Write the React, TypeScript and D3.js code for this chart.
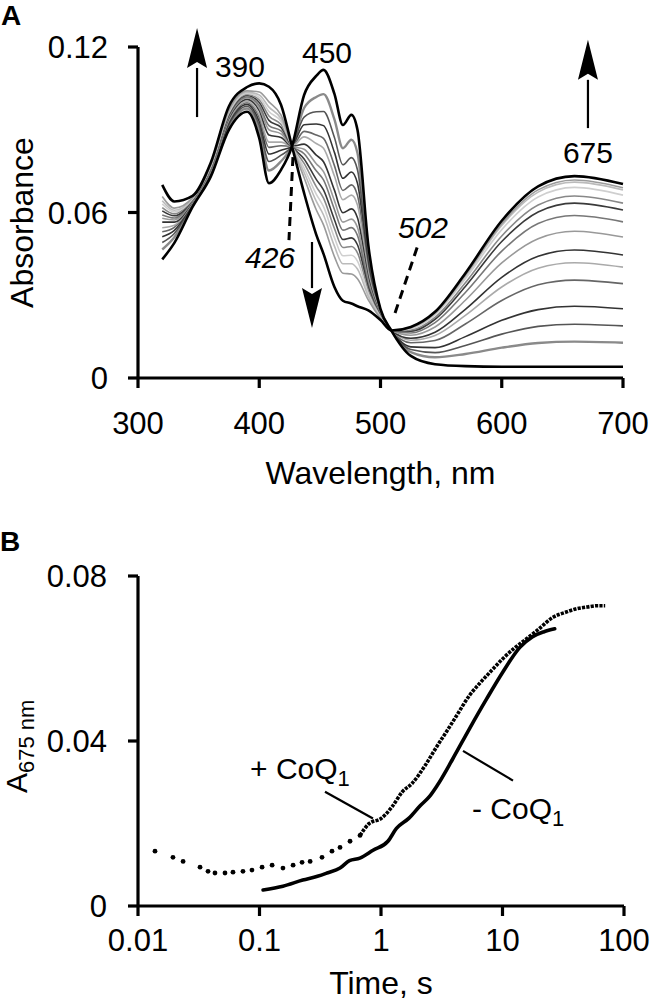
import React from 'react';
import * as d3 from 'd3';

// ---------- Panel A data: absorbance spectra (initial -> final) ----------
const WAVELENGTHS = [320, 330, 345, 360, 375, 390, 400, 408, 418, 427, 437, 447, 453, 462, 469, 476, 481, 490, 500, 509, 525, 545, 570, 600, 630, 660, 700];

const SPECTRUM_0 = [0.043, 0.049, 0.062, 0.073, 0.090, 0.0965, 0.087, 0.0706, 0.0755, 0.084, 0.1026, 0.1095, 0.1117, 0.103, 0.0917, 0.0954, 0.090, 0.048, 0.025, 0.0172, 0.008, 0.005, 0.0043, 0.0041, 0.0041, 0.0041, 0.0041];
const SPECTRUM_1 = [0.0466, 0.0510, 0.0625, 0.0737, 0.0911, 0.0977, 0.0896, 0.0752, 0.0786, 0.084, 0.0979, 0.1019, 0.1029, 0.0938, 0.0833, 0.0864, 0.0816, 0.0449, 0.0245, 0.0172, 0.0094, 0.0075, 0.0087, 0.0110, 0.0127, 0.0132, 0.0128];
const SPECTRUM_2 = [0.0491, 0.0524, 0.0629, 0.0741, 0.0919, 0.0985, 0.0915, 0.0785, 0.0808, 0.084, 0.0946, 0.0965, 0.0966, 0.0872, 0.0773, 0.0799, 0.0755, 0.0427, 0.0241, 0.0172, 0.0103, 0.0092, 0.0118, 0.0159, 0.0187, 0.0195, 0.0189];
const SPECTRUM_3 = [0.0512, 0.0535, 0.0632, 0.0745, 0.0926, 0.0992, 0.0930, 0.0812, 0.0826, 0.084, 0.0918, 0.0921, 0.0915, 0.0818, 0.0724, 0.0747, 0.0706, 0.0409, 0.0238, 0.0172, 0.0113, 0.0110, 0.0150, 0.0209, 0.0248, 0.0260, 0.0251];
const SPECTRUM_4 = [0.0530, 0.0546, 0.0635, 0.0749, 0.0932, 0.0998, 0.0944, 0.0836, 0.0842, 0.084, 0.0894, 0.0881, 0.0869, 0.0770, 0.0680, 0.0700, 0.0662, 0.0393, 0.0235, 0.0172, 0.0128, 0.0136, 0.0196, 0.0281, 0.0338, 0.0355, 0.0342];
const SPECTRUM_5 = [0.0545, 0.0554, 0.0637, 0.0751, 0.0936, 0.1003, 0.0954, 0.0855, 0.0855, 0.084, 0.0874, 0.0850, 0.0833, 0.0732, 0.0646, 0.0663, 0.0627, 0.0380, 0.0233, 0.0172, 0.0137, 0.0154, 0.0227, 0.0330, 0.0398, 0.0418, 0.0402];
const SPECTRUM_6 = [0.0565, 0.0565, 0.0640, 0.0755, 0.0942, 0.1010, 0.0969, 0.0881, 0.0872, 0.084, 0.0848, 0.0808, 0.0784, 0.0681, 0.0599, 0.0613, 0.0581, 0.0363, 0.0230, 0.0172, 0.0144, 0.0166, 0.0249, 0.0365, 0.0441, 0.0464, 0.0446];
const SPECTRUM_7 = [0.0579, 0.0573, 0.0642, 0.0758, 0.0947, 0.1015, 0.0979, 0.0900, 0.0885, 0.084, 0.0829, 0.0777, 0.0748, 0.0643, 0.0565, 0.0576, 0.0546, 0.0350, 0.0228, 0.0172, 0.0155, 0.0185, 0.0282, 0.0417, 0.0505, 0.0532, 0.0511];
const SPECTRUM_8 = [0.0591, 0.0580, 0.0644, 0.0760, 0.0951, 0.1019, 0.0988, 0.0915, 0.0896, 0.084, 0.0813, 0.0751, 0.0718, 0.0611, 0.0536, 0.0545, 0.0517, 0.0339, 0.0226, 0.0172, 0.0163, 0.0201, 0.0310, 0.0460, 0.0560, 0.0589, 0.0566];
const SPECTRUM_9 = [0.0606, 0.0588, 0.0646, 0.0763, 0.0955, 0.1024, 0.0999, 0.0934, 0.0908, 0.084, 0.0794, 0.0720, 0.0682, 0.0574, 0.0502, 0.0508, 0.0483, 0.0327, 0.0224, 0.0172, 0.0170, 0.0213, 0.0332, 0.0495, 0.0602, 0.0634, 0.0609];
const SPECTRUM_10 = [0.0618, 0.0595, 0.0648, 0.0765, 0.0959, 0.1028, 0.1008, 0.0950, 0.0919, 0.084, 0.0778, 0.0694, 0.0652, 0.0542, 0.0473, 0.0477, 0.0454, 0.0316, 0.0222, 0.0172, 0.0174, 0.0220, 0.0345, 0.0515, 0.0627, 0.0660, 0.0634];
const SPECTRUM_11 = [0.0631, 0.0602, 0.0650, 0.0767, 0.0963, 0.1032, 0.1017, 0.0966, 0.0930, 0.084, 0.0761, 0.0667, 0.0621, 0.0509, 0.0443, 0.0445, 0.0424, 0.0305, 0.0220, 0.0172, 0.0179, 0.0229, 0.0360, 0.0538, 0.0656, 0.0691, 0.0663];
const SPECTRUM_12 = [0.0643, 0.0608, 0.0652, 0.0769, 0.0967, 0.1036, 0.1026, 0.0982, 0.0940, 0.084, 0.0745, 0.0641, 0.0591, 0.0478, 0.0414, 0.0414, 0.0395, 0.0295, 0.0218, 0.0172, 0.0182, 0.0234, 0.0369, 0.0553, 0.0674, 0.0710, 0.0682];
const SPECTRUM_13 = [0.0658, 0.0616, 0.0654, 0.0772, 0.0972, 0.1041, 0.1037, 0.1001, 0.0953, 0.084, 0.0726, 0.0610, 0.0555, 0.0440, 0.0380, 0.0377, 0.0360, 0.0282, 0.0216, 0.0172, 0.0183, 0.0236, 0.0373, 0.0559, 0.0682, 0.0718, 0.0690];
const SPECTRUM_14 = [0.070, 0.064, 0.066, 0.078, 0.0985, 0.1055, 0.1068, 0.1056, 0.099, 0.084, 0.067, 0.052, 0.045, 0.033, 0.028, 0.027, 0.026, 0.0245, 0.021, 0.0172, 0.0185, 0.024, 0.038, 0.057, 0.0695, 0.0732, 0.0703];

const SPECTRA = [SPECTRUM_0, SPECTRUM_1, SPECTRUM_2, SPECTRUM_3, SPECTRUM_4, SPECTRUM_5, SPECTRUM_6, SPECTRUM_7, SPECTRUM_8, SPECTRUM_9, SPECTRUM_10, SPECTRUM_11, SPECTRUM_12, SPECTRUM_13, SPECTRUM_14];
const SPECTRA_COLORS = ['#000', '#8a8a8a', '#555', '#333', '#666', '#aaa', '#333', '#999', '#777', '#3a3a3a', '#888', '#cfcfcf', '#bbb', '#9a9a9a', '#000'];
const SPECTRA_WIDTHS = [2.6, 2.4, 1.6, 1.6, 1.6, 1.6, 1.6, 1.6, 1.6, 1.6, 1.6, 1.6, 1.6, 1.6, 2.6];
const DRAW_ORDER = [1, 2, 3, 4, 5, 6, 7, 8, 9, 10, 11, 12, 13, 0, 14];

const A_X_TICKS = [300, 400, 500, 600, 700];
const A_Y_TICKS = [0, 0.06, 0.12];
const A_Y_LABELS = ['0', '0.06', '0.12'];

// ---------- Panel B data: A675 kinetics ----------
const PLUS_COQ_TIME = [0.0138, 0.0194, 0.0235, 0.0324, 0.0377, 0.043, 0.052, 0.0605, 0.0731, 0.0867, 0.105, 0.127, 0.156, 0.189, 0.224, 0.261, 0.327, 0.395, 0.46, 0.556, 0.672,
  0.8, 1.0, 1.23, 1.5, 1.8, 2.3, 2.9, 3.5, 4.1, 5.4, 6.5, 8.2, 10.1, 12.5, 15.5, 20, 26, 33, 40, 50, 60, 70];
const PLUS_COQ_ABS = [0.0133, 0.0118, 0.0108, 0.0094, 0.0084, 0.008, 0.008, 0.0082, 0.0084, 0.0087, 0.0094, 0.0099, 0.0092, 0.0099, 0.0106, 0.0108, 0.0118, 0.0133, 0.0142, 0.0157, 0.0171,
  0.0200, 0.0212, 0.0240, 0.0277, 0.0297, 0.0340, 0.0388, 0.0425, 0.0457, 0.0512, 0.0540, 0.0572, 0.0600, 0.0625, 0.0646, 0.0672, 0.0700, 0.0712, 0.0720, 0.0725, 0.0728, 0.0728];
const PLUS_COQ_SPARSE_UNTIL = 0.7;

const MINUS_COQ_TIME = [0.107, 0.156, 0.227, 0.30, 0.36, 0.46, 0.55, 0.67, 0.86, 1.14, 1.34, 1.7, 2.1, 2.5, 2.9, 3.9, 5.4, 7.4, 10.1, 13.9, 17.7, 22, 26.9];
const MINUS_COQ_ABS = [0.0039, 0.0048, 0.0063, 0.0072, 0.0080, 0.0092, 0.0110, 0.0116, 0.0135, 0.0157, 0.0188, 0.0213, 0.0243, 0.0265, 0.0292, 0.0357, 0.0432, 0.0502, 0.0568, 0.0627, 0.0653, 0.0665, 0.0672];

const B_X_TICKS = [0.01, 0.1, 1, 10, 100];
const B_X_LABELS = ['0.01', '0.1', '1', '10', '100'];
const B_Y_TICKS = [0, 0.04, 0.08];
const B_Y_LABELS = ['0', '0.04', '0.08'];

const FONT = "'Liberation Sans', Arial, Helvetica, sans-serif";

function Arrow({ x, y1, y2, head = 40, hw = 10 }: { x: number; y1: number; y2: number; head?: number; hw?: number }) {
  const dir = y2 < y1 ? 1 : -1; // 1 = up
  const base = y2 + dir * head;
  return (
    <g>
      <line x1={x} y1={y1} x2={x} y2={base} stroke="#000" strokeWidth={2.2} />
      <path d={`M${x},${y2} L${x - hw},${base} L${x},${base - dir * 6} L${x + hw},${base} Z`} fill="#000" />
    </g>
  );
}

export default function App() {
  const xA = d3.scaleLinear().domain([300, 700]).range([138, 623]);
  const yA = d3.scaleLinear().domain([0, 0.12]).range([378, 47]);
  const xB = d3.scaleLog().domain([0.01, 100]).range([138, 624]);
  const yB = d3.scaleLinear().domain([0, 0.08]).range([906, 576]);

  const specLine = d3
    .line<number>()
    .x((_, i) => xA(WAVELENGTHS[i]))
    .y((d) => yA(d))
    .curve(d3.curveMonotoneX);

  const plusPts = PLUS_COQ_TIME.map((t, i) => [t, PLUS_COQ_ABS[i]] as [number, number]);
  const sparse = plusPts.filter((p) => p[0] < PLUS_COQ_SPARSE_UNTIL);
  const dense = plusPts.filter((p, i) => p[0] >= PLUS_COQ_SPARSE_UNTIL || (i + 1 < plusPts.length && plusPts[i + 1][0] >= PLUS_COQ_SPARSE_UNTIL && p[0] < PLUS_COQ_SPARSE_UNTIL));
  const minusPts = MINUS_COQ_TIME.map((t, i) => [t, MINUS_COQ_ABS[i]] as [number, number]);
  const kinLine = d3
    .line<[number, number]>()
    .x((d) => xB(d[0]))
    .y((d) => yB(d[1]))
    .curve(d3.curveMonotoneX);

  const tickFont = 31;
  const titleFont = 32;
  const annFont = 30;

  return (
    <svg width={650} height={1008} viewBox="0 0 650 1008" style={{ position: 'absolute', left: 0, top: 0, background: '#fff' }} fontFamily={FONT}>
      <rect x={0} y={0} width={650} height={1008} fill="#fff" />
      {/* ================= Panel A ================= */}
      <text x={1} y={25} fontSize={28} fontWeight="bold">A</text>

      {DRAW_ORDER.map((k) => (
        <path key={k} d={specLine(SPECTRA[k]) || ''} fill="none" stroke={SPECTRA_COLORS[k]} strokeWidth={SPECTRA_WIDTHS[k]} strokeLinejoin="round" />
      ))}

      {/* axes */}
      <line x1={xA(300)} y1={yA(0)} x2={xA(700)} y2={yA(0)} stroke="#000" strokeWidth={3.2} />
      <line x1={xA(300)} y1={yA(0)} x2={xA(300)} y2={yA(0.12)} stroke="#000" strokeWidth={3.2} />
      {A_X_TICKS.map((t) => (
        <g key={t}>
          <line x1={xA(t)} x2={xA(t)} y1={yA(0)} y2={yA(0) + 10} stroke="#000" strokeWidth={3.2} />
          <text x={xA(t)} y={yA(0) + 56} fontSize={tickFont} textAnchor="middle">{t}</text>
        </g>
      ))}
      {A_Y_TICKS.map((t, i) => (
        <g key={t}>
          <line x1={xA(300) - 10} x2={xA(300)} y1={yA(t)} y2={yA(t)} stroke="#000" strokeWidth={3.2} />
          <text x={xA(300) - 30} y={yA(t)} dy="0.36em" fontSize={tickFont} textAnchor="end">{A_Y_LABELS[i]}</text>
        </g>
      ))}
      <text x={(xA(300) + xA(700)) / 2} y={yA(0) + 106} fontSize={titleFont} textAnchor="middle">Wavelength, nm</text>
      <text transform={`translate(33,${(yA(0) + yA(0.12)) / 2 + 10}) rotate(-90)`} fontSize={titleFont} textAnchor="middle">Absorbance</text>

      {/* annotations */}
      <Arrow x={xA(348.7)} y1={yA(0.0946)} y2={yA(0.1269)} />
      <Arrow x={xA(443.5)} y1={yA(0.0493)} y2={yA(0.0181)} />
      <Arrow x={xA(671.1)} y1={yA(0.0906)} y2={yA(0.1226)} />
      <line x1={xA(427.8)} y1={yA(0.0801)} x2={xA(424.5)} y2={yA(0.05)} stroke="#000" strokeWidth={3} strokeDasharray="9 6" />
      <line x1={xA(512)} y1={yA(0.0236)} x2={xA(530.9)} y2={yA(0.0482)} stroke="#000" strokeWidth={3} strokeDasharray="9 6" />
      <text x={xA(384.1)} y={yA(0.1091)} fontSize={annFont} textAnchor="middle">390</text>
      <text x={xA(455.9)} y={yA(0.1142)} fontSize={annFont} textAnchor="middle">450</text>
      <text x={xA(671.1)} y={yA(0.078)} fontSize={annFont} textAnchor="middle">675</text>
      <text x={xA(408.9)} y={yA(0.0399)} fontSize={annFont} textAnchor="middle" fontStyle="italic">426</text>
      <text x={xA(535)} y={yA(0.0508)} fontSize={annFont} textAnchor="middle" fontStyle="italic">502</text>

      {/* ================= Panel B ================= */}
      <text x={0} y={551} fontSize={28} fontWeight="bold">B</text>

      {sparse.map((p, i) => (
        <circle key={i} cx={xB(p[0])} cy={yB(p[1])} r={2.4} fill="#000" />
      ))}
      <path d={kinLine(dense) || ''} fill="none" stroke="#000" strokeWidth={3.6} strokeDasharray="3.2 1.2" />
      <path d={kinLine(minusPts) || ''} fill="none" stroke="#000" strokeWidth={3.6} strokeLinejoin="round" strokeLinecap="round" />

      <line x1={xB(0.01)} y1={yB(0)} x2={xB(100)} y2={yB(0)} stroke="#000" strokeWidth={3.2} />
      <line x1={xB(0.01)} y1={yB(0)} x2={xB(0.01)} y2={yB(0.08)} stroke="#000" strokeWidth={3.2} />
      {B_X_TICKS.map((t, i) => (
        <g key={t}>
          <line x1={xB(t)} x2={xB(t)} y1={yB(0)} y2={yB(0) + 10} stroke="#000" strokeWidth={3.2} />
          <text x={xB(t)} y={yB(0) + 45} fontSize={tickFont} textAnchor="middle">{B_X_LABELS[i]}</text>
        </g>
      ))}
      {B_Y_TICKS.map((t, i) => (
        <g key={t}>
          <line x1={xB(0.01) - 10} x2={xB(0.01)} y1={yB(t)} y2={yB(t)} stroke="#000" strokeWidth={3.2} />
          <text x={xB(0.01) - 31} y={yB(t)} dy="0.36em" fontSize={tickFont} textAnchor="end">{B_Y_LABELS[i]}</text>
        </g>
      ))}
      <text x={(xB(0.01) + xB(100)) / 2} y={yB(0) + 88} fontSize={titleFont} textAnchor="middle">Time, s</text>
      <text transform="translate(27,793) rotate(-90)" fontSize={30}>
        A<tspan fontSize={22} dy={7}>675 nm</tspan>
      </text>

      <line x1={xB(0.346)} y1={yB(0.0277)} x2={xB(0.859)} y2={yB(0.0212)} stroke="#000" strokeWidth={2.2} />
      <line x1={xB(4.73)} y1={yB(0.0376)} x2={xB(12.2)} y2={yB(0.0304)} stroke="#000" strokeWidth={2.2} />
      <text x={xB(0.0836)} y={yB(0.0308)} fontSize={annFont}>
        + CoQ<tspan fontSize={22} dy={7}>1</tspan>
      </text>
      <text x={xB(5.61)} y={yB(0.0212)} fontSize={annFont}>
        - CoQ<tspan fontSize={22} dy={7}>1</tspan>
      </text>
    </svg>
  );
}
